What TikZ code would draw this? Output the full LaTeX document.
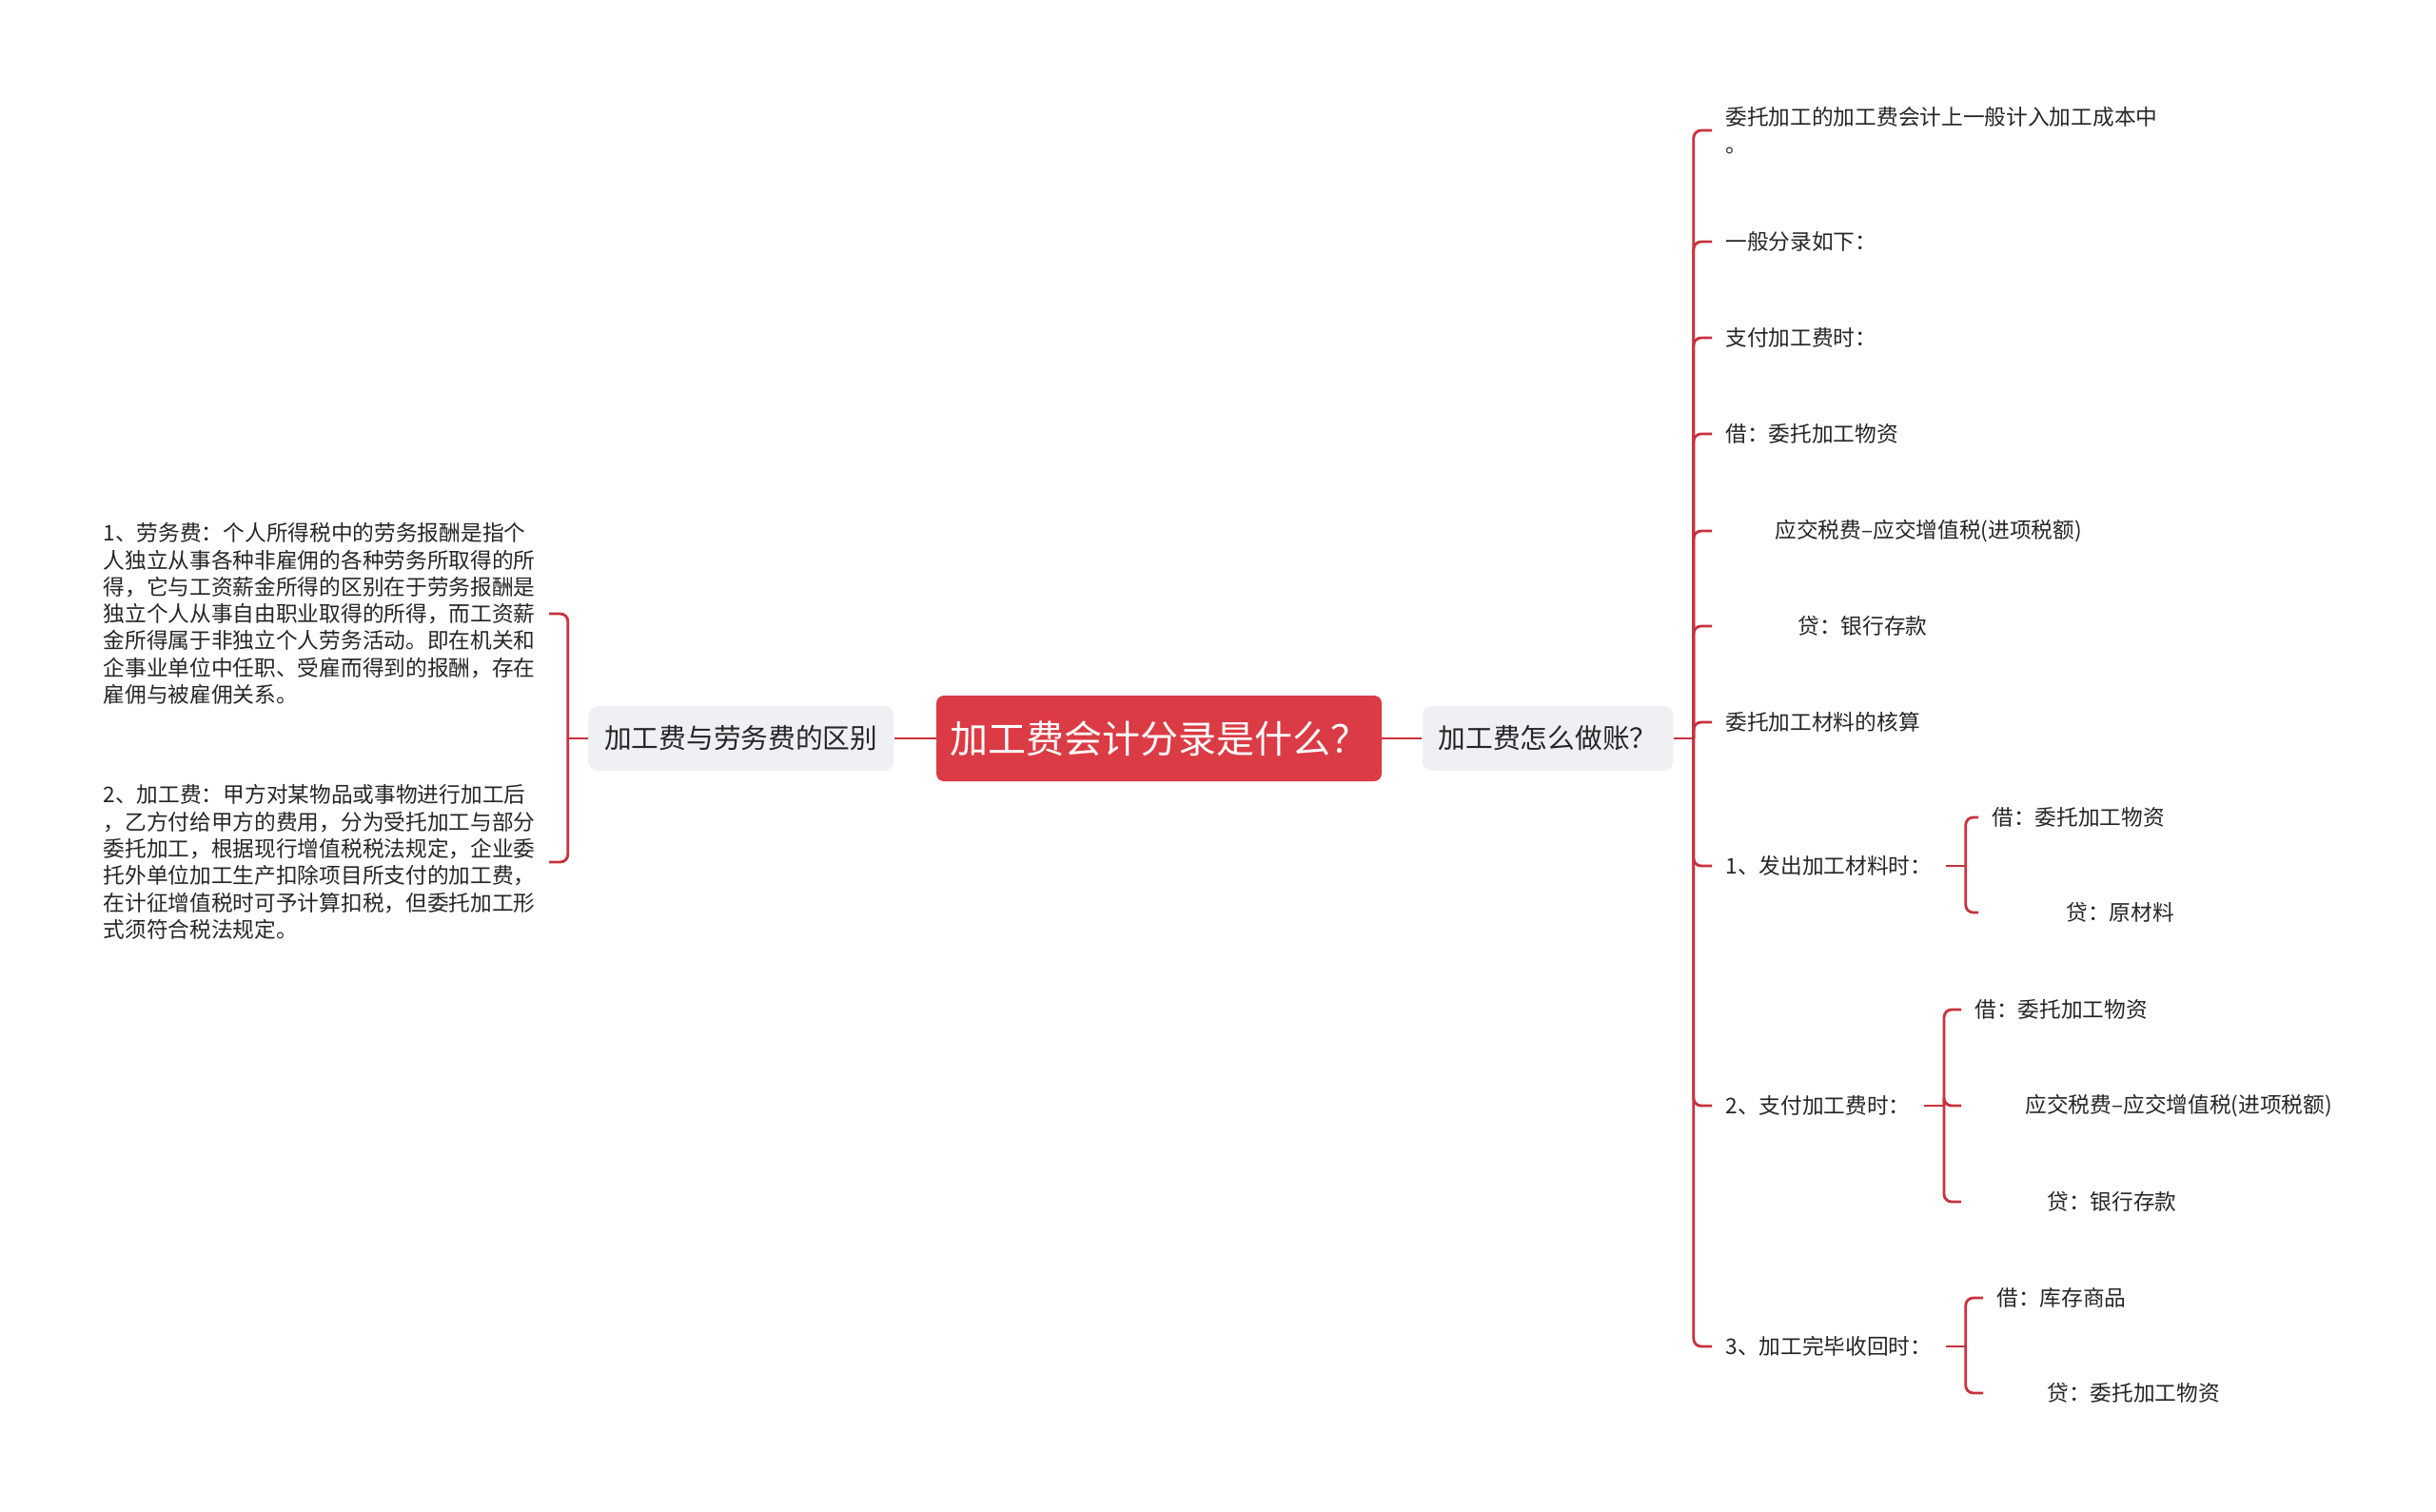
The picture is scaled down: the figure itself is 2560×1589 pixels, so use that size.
\documentclass[tikz,border=0pt]{standalone}
\usepackage{fontspec}
\setmainfont{Noto Sans CJK SC}
\usetikzlibrary{positioning}
\definecolor{accent}{HTML}{DB3B44}
\definecolor{branchred}{HTML}{C8323D}
\definecolor{topicbg}{HTML}{EEF0F3}
\definecolor{ink}{HTML}{262626}

\begin{document}
\begin{tikzpicture}[x=0.5pt, y=-0.5pt,
  every node/.style={font=\fontsize{11.35pt}{14.15pt}\selectfont, text=ink},
  root/.style={
    fill=accent, rounded corners=4pt, text=white,
    minimum width=234pt, minimum height=45pt,
    font=\fontsize{20pt}{24pt}\selectfont
  },
  topic/.style={
    fill=topicbg, rounded corners=5pt, inner xsep=8.5pt,
    minimum height=34pt, font=\fontsize{14.35pt}{17pt}\selectfont
  },
  leaf/.style={inner xsep=7pt, inner ysep=0pt, align=left},
  branch/.style={draw=branchred, line width=1.4pt, rounded corners=4pt}
]
  \useasboundingbox[fill=white] (0,0) rectangle (2560,1589);

  % centre and the two topics
  \node[root] (root) at (1218,776) {加工费会计分录是什么？};
  \node[topic, left=22pt of root] (lt) {加工费与劳务费的区别};
  \node[topic, right=21pt of root] (rt) {加工费怎么做账？};

  % left side
  \node[leaf, anchor=east] (l1) at (577,645) {1、劳务费：个人所得税中的劳务报酬是指个\\人独立从事各种非雇佣的各种劳务所取得的所\\得，它与工资薪金所得的区别在于劳务报酬是\\独立个人从事自由职业取得的所得，而工资薪\\金所得属于非独立个人劳务活动。即在机关和\\企事业单位中任职、受雇而得到的报酬，存在\\雇佣与被雇佣关系。};
  \node[leaf, anchor=east] (l2) at (577,906) {2、加工费：甲方对某物品或事物进行加工后\\，乙方付给甲方的费用，分为受托加工与部分\\委托加工，根据现行增值税税法规定，企业委\\托外单位加工生产扣除项目所支付的加工费，\\在计征增值税时可予计算扣税，但委托加工形\\式须符合税法规定。};

  % right side
  \node[leaf, anchor=west] (r1) at (1799,137) {委托加工的加工费会计上一般计入加工成本中\\。};
  \node[leaf, anchor=west] (r2) at (1799,254) {一般分录如下：};
  \node[leaf, anchor=west] (r3) at (1799,355) {支付加工费时：};
  \node[leaf, anchor=west] (r4) at (1799,456) {借：委托加工物资};
  \node[leaf, anchor=west] (r5) at (1799,558) {\hspace*{26pt}应交税费–应交增值税(进项税额)};
  \node[leaf, anchor=west] (r6) at (1799,658) {\hspace*{38pt}贷：银行存款};
  \node[leaf, anchor=west] (r7) at (1799,759) {委托加工材料的核算};
  \node[leaf, anchor=west] (r8) at (1799,910) {1、发出加工材料时：};
  \node[leaf, anchor=west] (r9) at (1799,1162) {2、支付加工费时：};
  \node[leaf, anchor=west] (r10) at (1799,1415) {3、加工完毕收回时：};

  \node[leaf, anchor=west] (s1) at (2079,859) {借：委托加工物资};
  \node[leaf, anchor=west] (s2) at (2079,959) {\hspace*{39pt}贷：原材料};
  \node[leaf, anchor=west] (s3) at (2061,1061) {借：委托加工物资};
  \node[leaf, anchor=west] (s4) at (2061,1162) {\hspace*{26.5pt}应交税费–应交增值税(进项税额)};
  \node[leaf, anchor=west] (s5) at (2061,1263) {\hspace*{38pt}贷：银行存款};
  \node[leaf, anchor=west] (s6) at (2084,1364) {借：库存商品};
  \node[leaf, anchor=west] (s7) at (2084,1464) {\hspace*{26.5pt}贷：委托加工物资};

  % connectors
  \draw[branch] (root.west) -- (lt.east);
  \draw[branch] (root.east) -- (rt.west);
  \draw[branch] (lt.west) -- ++(-21,0) coordinate (lj);
  \draw[branch] (rt.east) -- ++(21,0) coordinate (rj);
  \draw[branch] (r8.east) -- ++(21,0) coordinate (j8);
  \draw[branch] (r9.east) -- ++(21,0) coordinate (j9);
  \draw[branch] (r10.east) -- ++(21,0) coordinate (j10);
  \foreach \n in {l1,l2}
    \draw[branch] (lj) |- (\n.east);
  \foreach \n in {r1,r2,r3,r4,r5,r6,r7,r8,r9,r10}
    \draw[branch] (rj) |- (\n.west);
  \foreach \n in {s1,s2}
    \draw[branch] (j8) |- (\n.west);
  \foreach \n in {s3,s4,s5}
    \draw[branch] (j9) |- (\n.west);
  \foreach \n in {s6,s7}
    \draw[branch] (j10) |- (\n.west);
\end{tikzpicture}
\end{document}
